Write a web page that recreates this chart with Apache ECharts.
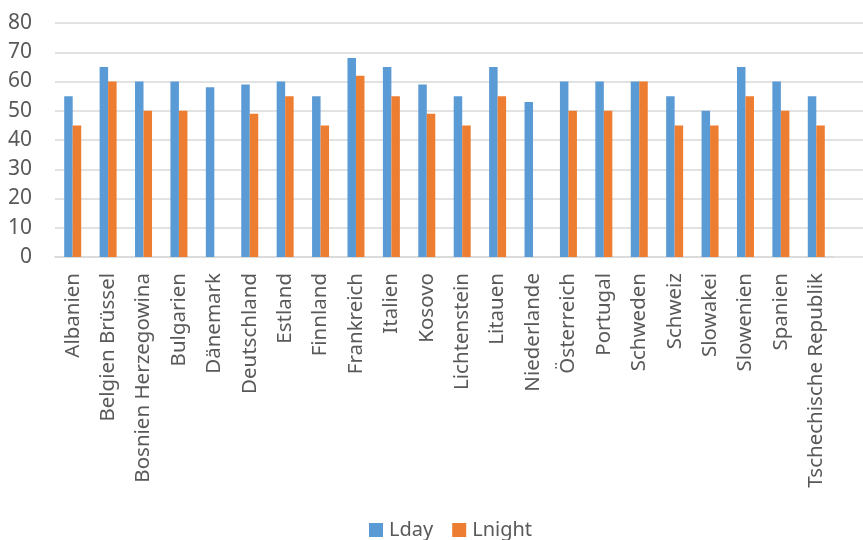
<!DOCTYPE html>
<html><head><meta charset="utf-8">
<script src="https://cdn.jsdelivr.net/npm/echarts@6/dist/echarts.min.js"></script>
<style>html,body{margin:0;padding:0;background:#fff}#c{width:863px;height:540px}</style>
</head><body><div id="c"></div>
<script>
const categories = ["Albanien","Belgien Brüssel","Bosnien Herzegowina","Bulgarien","Dänemark","Deutschland","Estland","Finnland","Frankreich","Italien","Kosovo","Lichtenstein","Litauen","Niederlande","Österreich","Portugal","Schweden","Schweiz","Slowakei","Slowenien","Spanien","Tschechische Republik"];
const lday = [55,65,60,60,58,59,60,55,68,65,59,55,65,53,60,60,60,55,50,65,60,55];
const lnight = [45,60,50,50,null,49,55,45,62,55,49,45,55,null,50,50,60,45,45,55,50,45];
const yTicks = {min:0,max:80,interval:10};

const font = "Noto Sans";
const chart = echarts.init(document.getElementById('c'));
chart.setOption({
  animation:false,
  textStyle:{fontFamily:font},
  legend:{top:520,left:369,itemWidth:14,itemHeight:14,itemGap:19,icon:'rect',padding:0,
    textStyle:{fontSize:20,color:'#595959',fontFamily:font,padding:[0,0,0,1]},data:['Lday','Lnight']},
  grid:[
    {left:55,right:29,top:23,bottom:283,containLabel:false},
    {left:55,right:0,top:23,bottom:283,containLabel:false}
  ],
  xAxis:[
    {type:'category',gridIndex:0,data:categories,
     axisLine:{lineStyle:{color:'#d9d9d9',width:1.5}},axisTick:{show:false},
     axisLabel:{rotate:90,interval:0,fontSize:20.5,color:'#595959',margin:16,fontFamily:font}},
    {type:'value',gridIndex:1,show:false}
  ],
  yAxis:[
    {type:'value',gridIndex:0,min:yTicks.min,max:yTicks.max,interval:yTicks.interval,
     axisLine:{show:false},axisTick:{show:false},splitLine:{show:false},
     axisLabel:{fontSize:21,color:'#595959',margin:23,fontFamily:font}},
    {type:'value',gridIndex:1,min:yTicks.min,max:yTicks.max,interval:yTicks.interval,
     axisLine:{show:false},axisTick:{show:false},axisLabel:{show:false},
     splitLine:{lineStyle:{color:'#d9d9d9',width:1.5}}}
  ],
  series:[
    {name:'Lday',type:'bar',xAxisIndex:0,yAxisIndex:0,data:lday,barWidth:8.5,barGap:'0%',
     itemStyle:{color:'#5b9bd5'},z:3},
    {name:'Lnight',type:'bar',xAxisIndex:0,yAxisIndex:0,data:lnight,barWidth:8.5,barGap:'0%',
     itemStyle:{color:'#ed7d31'},z:3}
  ]
});
</script></body></html>
